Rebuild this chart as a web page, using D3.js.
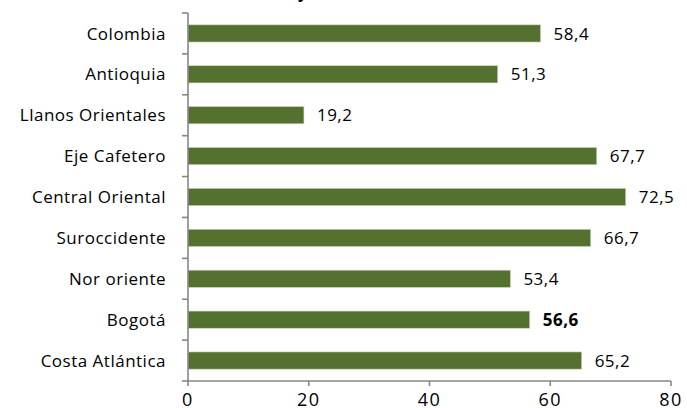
<!DOCTYPE html>
<html>
<head>
<meta charset="utf-8">
<script src="https://cdn.jsdelivr.net/npm/d3@7"></script>
<style>
  body { margin: 0; background: #fff; }
  text { font-family: "Open Sans", sans-serif; fill: #000; }
</style>
</head>
<body>
<div id="chart"></div>
<script>
var regions = ["Colombia", "Antioquia", "Llanos Orientales", "Eje Cafetero", "Central Oriental",
               "Suroccidente", "Nor oriente", "Bogotá", "Costa Atlántica"];
var values = [58.4, 51.3, 19.2, 67.7, 72.5, 66.7, 53.4, 56.6, 65.2];
var xTicks = [0, 20, 40, 60, 80];

var width = 687, height = 408;
var plotL = 188, plotR = 671, plotT = 13, plotB = 381;

var svg = d3.select("#chart")
    .append("svg")
    .attr("width", width)
    .attr("height", height);

// cut-off title fragment at the very top
svg.append("text")
    .attr("x", 298)
    .attr("y", -2)
    .style("font-weight", "bold")
    .style("font-size", "16px")
    .text("y,");

var x = d3.scaleLinear().domain([0, 80]).range([plotL, plotR]);
var y = d3.scaleBand().domain(regions).range([plotT, plotB]).paddingInner(0.58).paddingOuter(0.29);

// bars
svg.selectAll("rect.bar")
    .data(values)
    .enter()
    .append("rect")
        .attr("class", "bar")
        .attr("x", x(0))
        .attr("y", function(d, i){ return y(regions[i]) })
        .attr("width", function(d){ return x(d) - x(0) })
        .attr("height", y.bandwidth())
        .attr("fill", "#55712f")
        .attr("stroke", "#c9d3bb")
        .attr("stroke-width", 0.6);

// value labels
svg.selectAll("text.val")
    .data(values)
    .enter()
    .append("text")
        .attr("class", "val")
        .attr("x", function(d){ return x(d) + 13 })
        .attr("y", function(d, i){ return y(regions[i]) + y.bandwidth() / 2 })
        .attr("dy", "0.36em")
        .style("font-size", "17px")
        .style("letter-spacing", "0.5px")
        .style("font-weight", function(d, i){ return regions[i] == "Bogotá" ? "bold" : "normal" })
        .text(function(d){ return d3.format(".1f")(d).replace(".", ",") });

// y axis: line + boundary ticks
var step = (plotB - plotT) / regions.length;
var yAxis = svg.append("g").attr("stroke", "#878787").attr("stroke-width", 1.6);
yAxis.append("line").attr("x1", plotL).attr("x2", plotL).attr("y1", plotT).attr("y2", plotB);
d3.range(regions.length + 1).forEach(function(i){
    yAxis.append("line")
        .attr("x1", plotL - 6).attr("x2", plotL)
        .attr("y1", plotT + i * step).attr("y2", plotT + i * step);
});

// category labels
svg.selectAll("text.cat")
    .data(regions)
    .enter()
    .append("text")
        .attr("class", "cat")
        .attr("x", plotL - 22)
        .attr("y", function(d){ return y(d) + y.bandwidth() / 2 })
        .attr("dy", "0.36em")
        .attr("text-anchor", "end")
        .style("font-size", "17px")
        .style("letter-spacing", "0.5px")
        .text(function(d){ return d });

// x axis
var xAxis = svg.append("g").attr("stroke", "#878787").attr("stroke-width", 1.6);
xAxis.append("line").attr("x1", plotL).attr("x2", plotR).attr("y1", plotB).attr("y2", plotB);
xTicks.forEach(function(t){
    xAxis.append("line").attr("x1", x(t)).attr("x2", x(t)).attr("y1", plotB).attr("y2", plotB + 5);
});
svg.selectAll("text.tick")
    .data(xTicks)
    .enter()
    .append("text")
        .attr("class", "tick")
        .attr("x", function(d){ return x(d) })
        .attr("y", 406)
        .attr("text-anchor", "middle")
        .style("font-size", "18px")
        .style("letter-spacing", "1.5px")
        .text(function(d){ return d });
</script>
</body>
</html>
